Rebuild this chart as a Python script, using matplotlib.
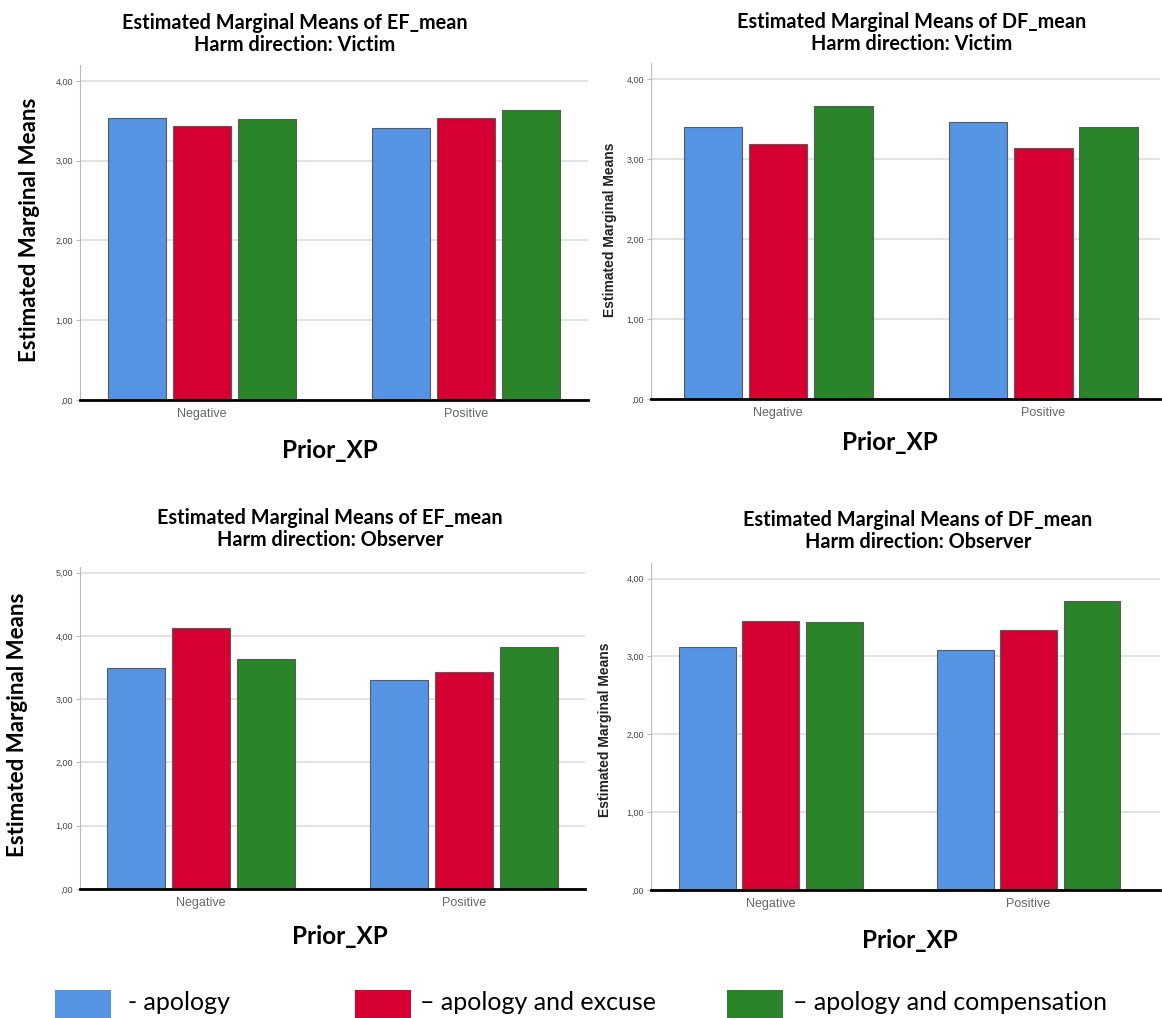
import matplotlib.pyplot as plt
from matplotlib.patches import Rectangle

W, H = 1162, 1018

categories = ["Negative", "Positive"]
series = ["- apology", "\u2013 apology and excuse", "\u2013 apology and compensation"]
colors = ["#5494E3", "#D60032", "#2A8429"]

# values per panel: rows = series, cols = categories
ef_victim   = [[3.54, 3.41], [3.44, 3.53], [3.52, 3.64]]
df_victim   = [[3.40, 3.46], [3.19, 3.14], [3.66, 3.40]]
ef_observer = [[3.49, 3.30], [4.12, 3.43], [3.63, 3.83]]
df_observer = [[3.12, 3.08], [3.46, 3.34], [3.44, 3.71]]

yticks_4 = [0, 1, 2, 3, 4]
yticks_5 = [0, 1, 2, 3, 4, 5]

TITLE_FONT = "Lato"
SMALL_FONT = "Liberation Sans"


def fmt(v):
    s = f"{v:.2f}".replace(".", ",")
    return s[1:] if s.startswith("0") else s


def px_axes(fig, left, right, top, bottom):
    return fig.add_axes([left / W, (H - bottom) / H, (right - left) / W, (bottom - top) / H])


def panel(fig, box, data, yticks, ymax, xlim, title, ylab_big, title_xy, ylab_xy, xlab_xy):
    ax = px_axes(fig, *box)
    offs = [-0.246, 0.0, 0.246]
    for i, vals in enumerate(data):
        xs = [j + offs[i] for j in range(len(categories))]
        ax.bar(xs, vals, width=0.22, color=colors[i], edgecolor="#5a5a5a", linewidth=0.8, zorder=3)
    ax.set_ylim(0, ymax)
    ax.set_xlim(*xlim)
    ax.set_yticks(yticks)
    ax.set_yticklabels([fmt(v) for v in yticks], fontsize=6.5, color="#444444", family=SMALL_FONT)
    ax.set_xticks(range(len(categories)))
    ax.set_xticklabels(categories, fontsize=9, color="#666666", family=SMALL_FONT)
    ax.tick_params(axis="x", length=0, pad=6)
    ax.tick_params(axis="y", length=3, color="#bbbbbb", pad=2)
    ax.grid(axis="y", color="#dddddd", linewidth=1.2, zorder=0)
    for s in ["top", "right"]:
        ax.spines[s].set_visible(False)
    ax.spines["left"].set_color("#bbbbbb")
    ax.spines["bottom"].set_color("black")
    ax.spines["bottom"].set_linewidth(2)
    ax.spines["bottom"].set_zorder(5)

    tx, ty = title_xy
    fig.text(tx / W, 1 - ty / H, title, ha="center", va="center", fontsize=14.3,
             fontweight="bold", family=TITLE_FONT, linespacing=1.1)
    lx, ly = ylab_xy
    if ylab_big:
        fig.text(lx / W, 1 - ly / H, "Estimated Marginal Means", rotation=90, ha="center", va="center",
                 fontsize=16, fontweight="bold", family=TITLE_FONT)
    else:
        fig.text(lx / W, 1 - ly / H, "Estimated Marginal Means", rotation=90, ha="center", va="center",
                 fontsize=10, fontweight="bold", family=SMALL_FONT, color="#222222")
    xx, xy = xlab_xy
    fig.text(xx / W, 1 - xy / H, "Prior_XP", ha="center", va="center", fontsize=17.5,
             fontweight="bold", family=TITLE_FONT)
    return ax


fig = plt.figure(figsize=(W / 100, H / 100), dpi=100)

panel(fig, (80, 588, 65, 400), ef_victim, yticks_4, 4.2, (-0.46, 1.46),
      "Estimated Marginal Means of EF_mean\nHarm direction: Victim", True,
      (295, 34), (30, 230), (330, 451))
panel(fig, (651, 1160, 63, 399), df_victim, yticks_4, 4.2, (-0.48, 1.44),
      "Estimated Marginal Means of DF_mean\nHarm direction: Victim", False,
      (912, 33), (610, 230), (890, 442))
panel(fig, (80, 585, 567, 889), ef_observer, yticks_5, 5.09, (-0.46, 1.46),
      "Estimated Marginal Means of EF_mean\nHarm direction: Observer", True,
      (330, 529), (18, 725), (340, 936))
panel(fig, (651, 1160, 563, 890), df_observer, yticks_4, 4.2, (-0.465, 1.51),
      "Estimated Marginal Means of DF_mean\nHarm direction: Observer", False,
      (918, 531), (605, 730), (910, 941))

# legend row at the bottom
leg_ax = fig.add_axes([0, 0, 1, 1], facecolor="none")
leg_ax.set_xlim(0, W)
leg_ax.set_ylim(H, 0)
leg_ax.axis("off")
patch_x = [55, 355, 727]
text_x = [128, 420, 793]
for px, tx, c, lab in zip(patch_x, text_x, colors, series):
    leg_ax.add_patch(Rectangle((px, 990), 56, 28, facecolor=c, edgecolor="none"))
    leg_ax.text(tx, 1003, lab, ha="left", va="center", fontsize=18, family=TITLE_FONT)

fig.savefig("out.png", dpi=100)
